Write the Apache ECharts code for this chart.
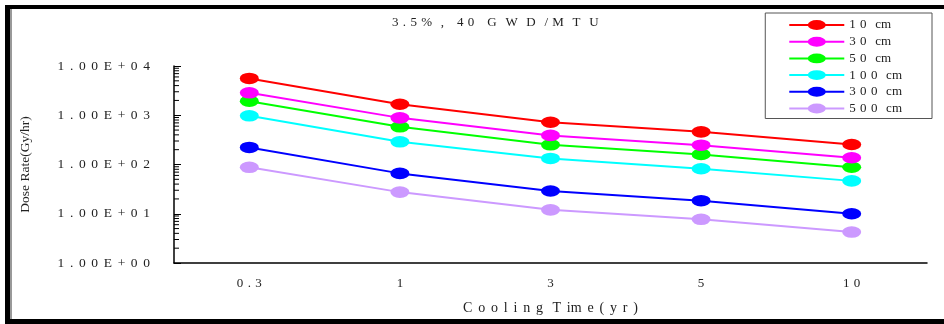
<!DOCTYPE html>
<html>
<head>
<meta charset="utf-8">
<script src="https://cdn.jsdelivr.net/npm/echarts@6/dist/echarts.min.js"></script>
<style>
html,body{margin:0;padding:0;background:#fff;}
#c{width:944px;height:324px;}
</style>
</head>
<body>
<div id="c"></div>
<script>
// Data
var categories = ['0.3', '1', '3', '5', '10'];
var seriesNames = ['10 cm', '30 cm', '50 cm', '100 cm', '300 cm', '500 cm'];
var d10  = [5600, 1670, 720, 460, 255];
var d30  = [2850, 885, 390, 247, 137];
var d50  = [1930, 582, 251, 160, 88];
var d100 = [975, 289, 133, 82, 46.5];
var d300 = [222, 66, 29, 18.4, 10];
var d500 = [87.6, 27.5, 12, 7.7, 4.25];
var yTickValues = [1, 10, 100, 1000, 10000];

var colors = ['#ff0000', '#ff00ff', '#00ff00', '#00ffff', '#0000ff', '#cc99ff'];
var allData = [d10, d30, d50, d100, d300, d500];

var SP = '\u2004';
var SPW = '\u2004\u200A';
function spaced(s, sep) { return s.split('').join(sep || SP); }

var FONT = 'Liberation Serif';
var ELLIPSE = 'path://M-10,-10L-10,-10M10,10L10,10M-10,0A10,5.5 0 1,0 10,0A10,5.5 0 1,0 -10,0Z';

var chart = echarts.init(document.getElementById('c'));

var series = allData.map(function (d, i) {
  return {
    name: seriesNames[i],
    type: 'line',
    data: d,
    symbol: ELLIPSE,
    symbolSize: [19, 21],
    showSymbol: true,
    lineStyle: { color: colors[i], width: 2 },
    itemStyle: { color: colors[i], borderWidth: 0 },
    animation: false,
    z: 10 - i
  };
});

var frame = [
  { id: 'f1', type: 'rect', shape: { x: 5, y: 5, width: 939, height: 4 }, style: { fill: '#000' }, silent: true },
  { id: 'f2', type: 'rect', shape: { x: 5, y: 5, width: 5, height: 319 }, style: { fill: '#000' }, silent: true },
  { id: 'f3', type: 'rect', shape: { x: 10, y: 9, width: 2, height: 310 }, style: { fill: '#999' }, silent: true },
  { id: 'f4', type: 'rect', shape: { x: 5, y: 319, width: 939, height: 5 }, style: { fill: '#000' }, silent: true }
];

chart.setOption({
  animation: false,
  textStyle: { fontFamily: FONT },
  title: {
    text: '3' + SP + '.' + SP + '5' + SP + '%' + SP + SP + ',' + SP + SP + SP + '4' + SP + '0' + SP + SP + SP +
          'G' + SP + SP + 'W' + SP + SP + 'D' + SP + SP + '/' + SP + 'M' + SP + SP + 'T' + SP + SP + 'U',
    left: 387,
    top: 11,
    textStyle: { fontFamily: FONT, fontSize: 13, fontWeight: 'normal', color: '#222' }
  },
  legend: {
    orient: 'vertical',
    right: 12,
    top: 13,
    padding: [3, 30, 1, 23],
    itemGap: -1.3,
    itemWidth: 55,
    itemHeight: 22.5,
    borderColor: '#555',
    borderWidth: 1,
    backgroundColor: '#fff',
    formatter: function (n) { var p = n.split(' '); return spaced(p[0]) + SP + SP + p[1]; },
    textStyle: { fontFamily: FONT, fontSize: 13, color: '#222' },
    data: seriesNames
  },
  grid: { left: 174, right: 17, top: 66, bottom: 61, containLabel: false },
  xAxis: {
    type: 'category',
    data: categories,
    boundaryGap: true,
    name: spaced('Cooling', SPW) + SP + SP + 'T' + SPW + 'im' + SPW + 'e' + SPW + '(' + SPW + 'y' + SPW + 'r' + SPW + ')',
    nameLocation: 'middle',
    nameGap: 38,
    nameTextStyle: { fontFamily: FONT, fontSize: 14, color: '#222' },
    axisLine: { lineStyle: { color: '#000', width: 1.5 } },
    axisTick: { inside: true, length: 4, interval: 0, lineStyle: { color: '#000' } },
    axisLabel: { fontFamily: FONT, fontSize: 13, color: '#222', margin: 14, interval: 0,
      formatter: function (v) { return spaced(v); } },
    splitLine: { show: false }
  },
  yAxis: {
    type: 'log',
    logBase: 10,
    min: 1,
    max: 10000,
    name: 'Dose Rate(Gy/hr)',
    nameLocation: 'middle',
    nameGap: 142,
    nameRotate: 90,
    nameTextStyle: { fontFamily: FONT, fontSize: 13.5, color: '#222' },
    axisLine: { show: true, lineStyle: { color: '#000', width: 1.5 } },
    axisTick: { show: true, inside: true, length: 7, lineStyle: { color: '#000' } },
    axisLabel: {
      fontFamily: FONT, fontSize: 13.5, color: '#222', margin: 24,
      formatter: function (v) {
        var e = Math.round(Math.log10(v));
        return spaced('1.00E+' + (e < 10 ? '0' : '') + e, SPW);
      }
    },
    splitLine: { show: false }
  },
  graphic: frame,
  series: series
});

// Minor log ticks at 2..9 x each decade, placed through the axis scale
var gx = 174;
try { gx = chart.getModel().getComponent('grid', 0).coordinateSystem.getRect().x; } catch (e) {}
var ticks = [];
for (var k = 0; k < yTickValues.length - 1; k++) {
  for (var m = 2; m <= 9; m++) {
    var y = chart.convertToPixel({ yAxisIndex: 0 }, m * yTickValues[k]);
    ticks.push({ id: 'mt' + k + '_' + m, type: 'line', silent: true,
      shape: { x1: gx, y1: y, x2: gx + 5, y2: y }, style: { stroke: '#000', lineWidth: 1 } });
  }
}
chart.setOption({ graphic: frame.concat(ticks) });
</script>
</body>
</html>
